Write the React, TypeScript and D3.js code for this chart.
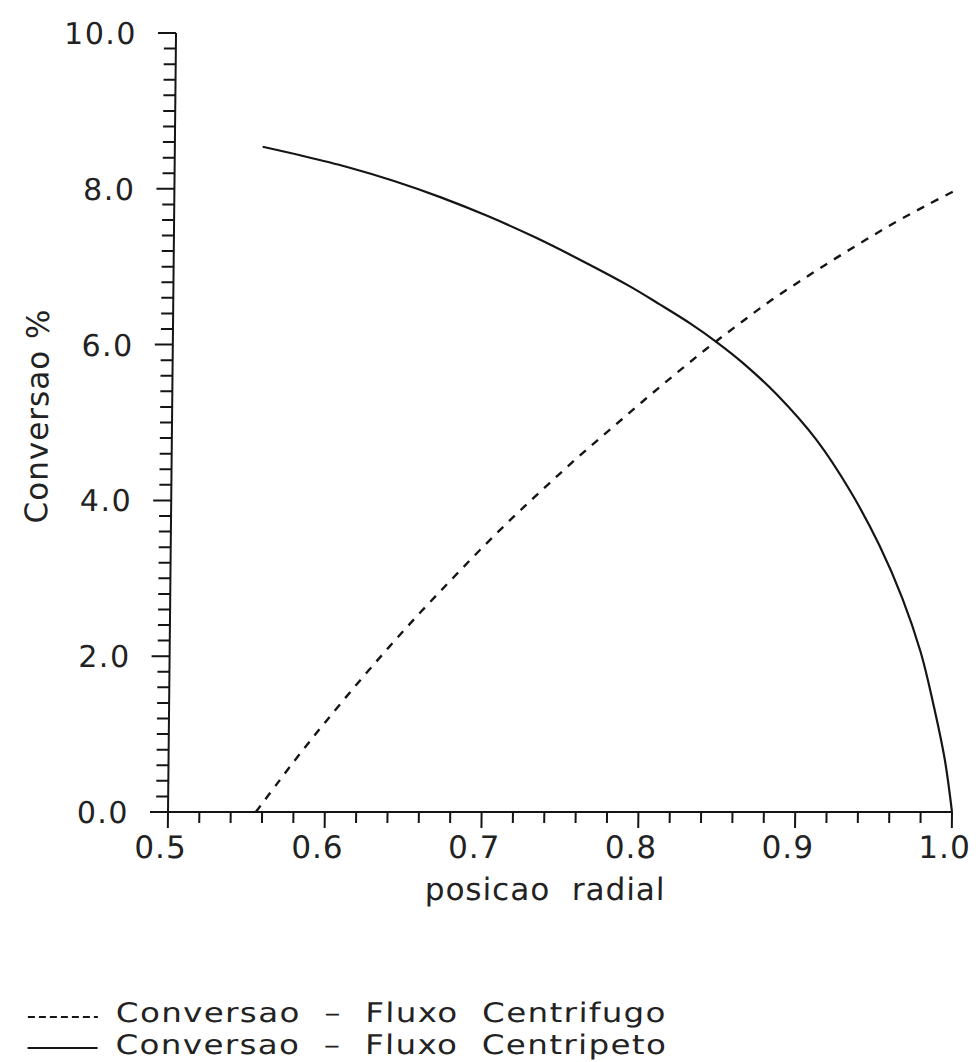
import React from "react";
import * as d3 from "d3";

const xTickLabels = ["0.5", "0.6", "0.7", "0.8", "0.9", "1.0"];
const yTickLabels = ["0.0", "2.0", "4.0", "6.0", "8.0", "10.0"];

const centripetoR = [0.556, 0.58, 0.61, 0.64, 0.67, 0.70, 0.73, 0.76, 0.79, 0.81, 0.83, 0.847, 0.864, 0.886, 0.911, 0.933, 0.952, 0.967, 0.979, 0.987, 0.995, 1.0];
const centripetoV = [8.54, 8.43, 8.28, 8.10, 7.89, 7.65, 7.38, 7.08, 6.76, 6.52, 6.27, 6.03, 5.76, 5.35, 4.78, 4.12, 3.42, 2.74, 2.05, 1.42, 0.68, 0];

const centrifugoR = [0.556, 0.57, 0.585, 0.60, 0.62, 0.64, 0.66, 0.68, 0.70, 0.72, 0.74, 0.76, 0.78, 0.80, 0.82, 0.84, 0.86, 0.88, 0.90, 0.92, 0.94, 0.96, 0.98, 1.0];
const centrifugoV = [0, 0.38, 0.78, 1.16, 1.65, 2.12, 2.57, 3.00, 3.42, 3.82, 4.20, 4.57, 4.92, 5.27, 5.61, 5.94, 6.25, 6.55, 6.82, 7.08, 7.33, 7.57, 7.79, 8.00];

const legendLabels = ["Conversao  –  Fluxo  Centrifugo", "Conversao  –  Fluxo  Centripeto"];
const xAxisTitle = "posicao  radial";
const yAxisTitle = "Conversao %";

export default function App() {
  const W = 976, H = 1062;
  const x = d3.scaleLinear().domain([0.5, 1.0]).range([168, 952]);
  const y = d3.scaleLinear().domain([0, 10]).range([812, 33]);
  const line = d3.line<[number, number]>().x(d => x(d[0])).y(d => y(d[1])).curve(d3.curveCatmullRom.alpha(0.5));
  const solid = centripetoR.map((r, i) => [r, centripetoV[i]] as [number, number]);
  const dashed = centrifugoR.map((r, i) => [r, centrifugoV[i]] as [number, number]);
  const xMinor = d3.range(0, 26).map(i => 0.5 + i * 0.02);
  const yMinor = d3.range(0, 51).map(i => i * 0.2);
  const font = "'DejaVu Sans', sans-serif";
  const x0 = x(0.5), yb = y(0);
  const ink = "#151515";
  return (
    <div style={{ position: "absolute", left: 0, top: 0 }}>
      <svg width={W} height={H} style={{ display: "block", background: "#fff" }}>
        <g transform={`translate(0,${yb}) skewX(-0.59) translate(0,${-yb})`} fontFamily={font} fill="#222">
          {/* axes */}
          <line x1={x0} x2={x(1.0)} y1={yb} y2={yb} stroke={ink} strokeWidth={2} />
          <line x1={x0} x2={x0} y1={y(10)} y2={yb} stroke={ink} strokeWidth={2} />
          {xMinor.map((v, i) => (
            <line key={"xt" + i} x1={x(v)} x2={x(v)} y1={yb} y2={yb + (i % 5 === 0 ? 16 : 11)} stroke={ink} strokeWidth={2} />
          ))}
          {yMinor.map((v, i) => (
            <line key={"yt" + i} x1={x0 - (i % 10 === 0 ? 18 : 12)} x2={x0} y1={y(v)} y2={y(v)} stroke={ink} strokeWidth={2} />
          ))}
          {xTickLabels.map((t, i) => (
            <text key={"xl" + i} x={x(+t) - 7} y={858} textAnchor="middle" fontSize={31} letterSpacing={1}>{t}</text>
          ))}
          {yTickLabels.map((t, i) => (
            <text key={"yl" + i} x={129} y={y(+t) + 11} textAnchor="end" fontSize={30} letterSpacing={1.5}>{t}</text>
          ))}
          <text x={546} y={900} textAnchor="middle" fontSize={31} letterSpacing={1} style={{ whiteSpace: "pre" }}>{xAxisTitle}</text>
          <text transform={`translate(44,416) rotate(-90)`} textAnchor="middle" fontSize={31} letterSpacing={1} style={{ whiteSpace: "pre" }}>{yAxisTitle}</text>
          {/* curves */}
          <path d={line(solid) || ""} fill="none" stroke={ink} strokeWidth={2.2} />
          <path d={line(dashed) || ""} fill="none" stroke={ink} strokeWidth={2.4} strokeDasharray="8,8" />
          {/* legend */}
          <line x1={30} x2={100} y1={1017} y2={1017} stroke={ink} strokeWidth={2} strokeDasharray="7,4" />
          <line x1={30} x2={100} y1={1048} y2={1048} stroke={ink} strokeWidth={2} />
          <text transform="translate(118,1022) scale(1.2,1)" fontSize={27} letterSpacing={1.2} style={{ whiteSpace: "pre" }}>{legendLabels[0]}</text>
          <text transform="translate(118,1054) scale(1.2,1)" fontSize={27} letterSpacing={1.2} style={{ whiteSpace: "pre" }}>{legendLabels[1]}</text>
        </g>
      </svg>
    </div>
  );
}
